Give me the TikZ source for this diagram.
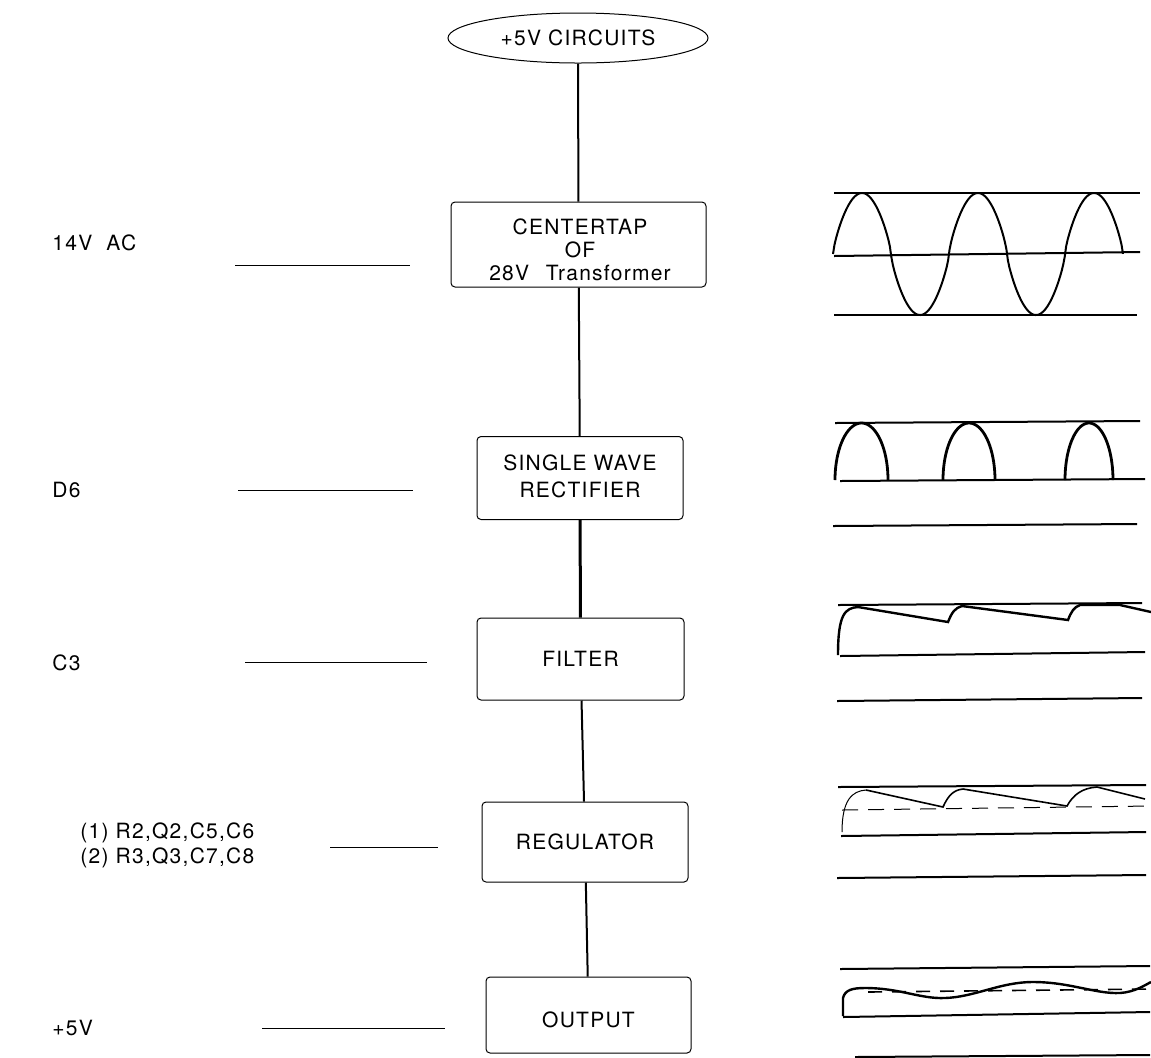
\documentclass[tikz,border=0pt]{standalone}
\usepackage{fontspec}
\setmainfont[LetterSpace=6]{TeX Gyre Heros}
\usetikzlibrary{shapes.geometric}
\begin{document}
\begin{tikzpicture}[x=0.5pt,y=-0.5pt,
      font=\fontsize{10.5}{12.5}\selectfont,
      oval/.style={
        % The shape:
        ellipse,minimum width=130pt,minimum height=25pt,inner sep=0pt,
        % The rest
        draw,line width=0.5pt},
      block/.style={
        % The shape:
        rectangle,rounded corners=2pt,inner sep=0pt,align=center,
        % The rest
        draw,line width=0.5pt},
      caption/.style={align=center,inner sep=0pt},
      tag/.style={anchor=west,align=left,inner sep=0pt},
      link/.style={line width=1pt},
      feed/.style={line width=0.5pt},
      rail/.style={line width=1pt},
      trace/.style={line width=0.8pt}]
    \useasboundingbox (0,0) rectangle (1151,1057);
    % chain of blocks
    \node(circ)[oval] at (578,38) {+5V CIRCUITS};
    \node(tap)[block, minimum width=127.5pt, minimum height=42.5pt] at (578.5,244.5) {};
    \node(tapT)[caption, font=\fontsize{10.5}{11.5}\selectfont] at (580,250) {CENTERTAP\\OF\\28V\hspace{0.8em}Transformer};
    \node(rect)[block, minimum width=103pt, minimum height=41.5pt] at (580,478) {};
    \node(rectT)[caption, font=\fontsize{10.5}{13.5}\selectfont] at (580,476) {SINGLE WAVE\\RECTIFIER};
    \node(filt)[block, minimum width=103.5pt, minimum height=41pt] at (580.5,659) {FILTER};
    \node(reg)[block, minimum width=103pt, minimum height=40pt] at (585,842) {REGULATOR};
    \node(out)[block, minimum width=102.5pt, minimum height=38pt] at (588.5,1015) {};
    \node(outT)[caption] at (588.5,1020) {OUTPUT};
    \path (circ) edge[link] (tap);
    \path (tap) edge[link] (rect);
    \path (rect) edge[link, line width=1.5pt] (filt);
    \path (filt) edge[link] (reg);
    \path (reg) edge[link] (out);
    % parts on the left
    \node(acT)[tag] at (52,243) {14V\ \ AC};
    \node(d6T)[tag] at (52,490) {D6};
    \node(c3T)[tag] at (52,663) {C3};
    \node(regT)[tag] at (80,845) {(1)\ R2,Q2,C5,C6\\(2)\ R3,Q3,C7,C8};
    \node(fiveT)[tag] at (52,1028) {+5V};
    \coordinate (acA) at (235,265);  \coordinate (acB) at (410,265);
    \coordinate (d6A) at (238,490);  \coordinate (d6B) at (413,490);
    \coordinate (c3A) at (245,662);  \coordinate (c3B) at (427,662);
    \coordinate (regA) at (330,847); \coordinate (regB) at (438,847);
    \coordinate (fiveA) at (262,1028); \coordinate (fiveB) at (445,1028);
    \draw[feed] (acA) -- (acB);
    \draw[feed] (d6A) -- (d6B);
    \draw[feed] (c3A) -- (c3B);
    \draw[feed] (regA) -- (regB);
    \draw[feed] (fiveA) -- (fiveB);
    % wave forms
    % transformer
    \draw[rail] (834,193) -- (1140,193);
    \draw[rail] (834,256) -- (1140,252);
    \draw[rail] (834,315) -- (1137,315);
    \draw[trace, line width=1pt, samples=200, domain=833:1123]
      plot (\x, {254-61*sign(sin((\x-833)/116*360))*pow(abs(sin((\x-833)/116*360))+0.0001,0.75)});
    % rectifier
    \draw[rail] (835,423) -- (1140,421);
    \draw[rail] (840,481) -- (1145,479);
    \draw[rail] (833,526) -- (1137,524);
    \foreach \c/\r in {861.5/26.5, 969/26, 1089/24}
      \draw[trace, line width=1.4pt, samples=40, domain=180:0]
        plot ({\c+\r*cos(\x)}, {480-57*sin(\x)});
    % filter
    \draw[rail] (838,605) -- (1142,603);
    \draw[rail] (840,656) -- (1145,652);
    \draw[rail] (837,701) -- (1142,698);
    \draw[trace, line width=1.2pt] (838,655) .. controls (838,614) and (845,608) .. (858,607)
      -- (948,622) .. controls (952,612) and (955,608) .. (962,606)
      -- (1068,620) .. controls (1071,612) and (1074,607) .. (1080,605)
      -- (1120,605) -- (1151,612);
    % regulator
    \draw[rail] (838,787) -- (1146,785);
    \draw[rail] (841,836) -- (1146,832);
    \draw[rail] (837,878) -- (1146,875);
    \draw[feed, dashed, dash pattern=on 8pt off 5pt] (842,810) -- (1151,806);
    \draw[feed] (842,832) .. controls (842,800) and (852,791) .. (866,790);
    \draw[trace] (866,790) -- (943,807) .. controls (948,796) and (953,790) .. (963,789)
      -- (1067,806) .. controls (1073,795) and (1082,788) .. (1097,787) -- (1145,799);
    % output
    \draw[rail] (840,969) -- (1150,966);
    \draw[rail] (843,1017) -- (1150,1012);
    \draw[rail] (855,1057) -- (1150,1055);
    \draw[trace, dashed, dash pattern=on 7pt off 5pt] (868,992) -- (1151,989);
    \draw[trace, line width=1.2pt] (843,1016) -- (843,998) .. controls (845,990) and (852,988) .. (865,988)
      .. controls (900,988) and (920,999) .. (945,998)
      .. controls (975,997) and (1000,982) .. (1033,982)
      .. controls (1070,982) and (1095,994) .. (1120,993)
      .. controls (1135,992) and (1145,985) .. (1151,982);
  \end{tikzpicture}
\end{document}
